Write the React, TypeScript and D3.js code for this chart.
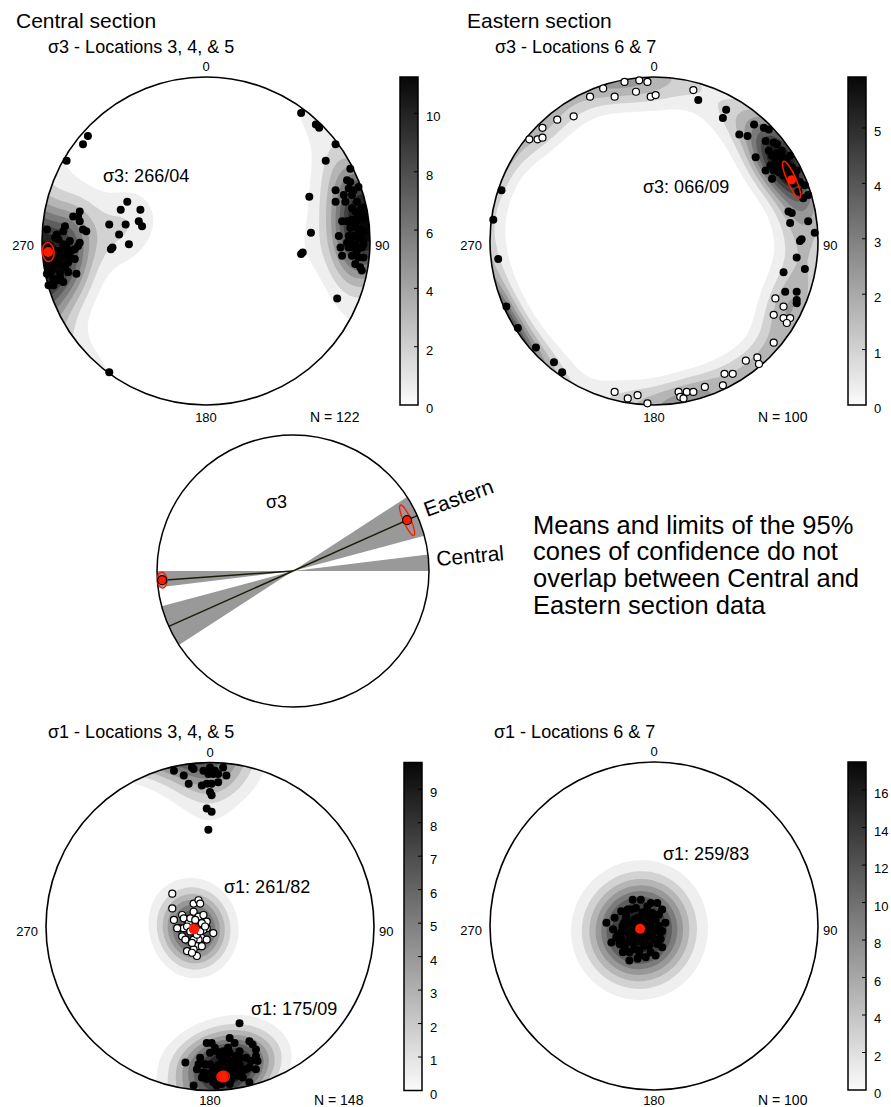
import React, { useMemo } from 'react';
import * as d3 from 'd3';

type Pt = [number, number];

// Points in equal-area (lower hemisphere) net coordinates: [east, north], % of primitive radius.
// Dense clusters hold overlapping points, so some entries sit under others.
const centralS3Points: Pt[] = [
  [58, 78], [67, 71], [69, 69], [79, 59], [73, 49], [88, 44], [86, 37], [88, 36], [87, 32], [90, 31],
  [93, 33], [79, 31], [84, 28], [89, 28], [79, 24], [85, 24], [92, 24], [95, 20], [91, 18], [95, 16],
  [63, 27], [83, 12], [86, 12], [89, 13], [92, 13], [96, 14], [91, 9], [94, 7], [96, 6], [81, 3],
  [87, 3], [90, 3], [93, 2], [95, 1], [88, 0], [91, -2], [96, -2], [64, 5], [82, -4], [87, -4],
  [90, -4], [95, -4], [83, -9], [89, -9], [93, -10], [96, -10], [91, -14], [94, -16], [95, -18], [59, -7],
  [58, -8], [80, -35], [90, 10], [88, 8], [92, -6], [89, 20], [86, -1], [93, 18],
  [-48, 24], [-52, 19], [-40, 19], [-41, 12], [-39, 9], [-49, 10], [-59, 10], [-53, 4], [-47, -2], [-57, -4],
  [-58, -5], [-72, 64], [-75, 59], [-85, 49], [-59, -80],
  [-77, 18], [-78, 15], [-81, 15], [-77, 12], [-73, 6], [-75, 7], [-97, 7], [-86, 9], [-87, 6], [-92, 2],
  [-83, 0], [-77, -1], [-78, -3], [-95, -3], [-85, -4], [-89, -6], [-83, -10], [-80, -11], [-92, -12], [-90, -14],
  [-86, -16], [-94, -18], [-89, -19], [-84, -19], [-79, -20], [-93, -23], [-87, -25], [-93, -27], [-89, -22],
  [-91, 4], [-90, 1], [-86, -7], [-93, -15], [-88, -15], [-90, -24], [-97, -20], [-96, -27],
  [-85, -8], [-88, -10], [-82, -6], [-90, -9], [-84, -13], [-87, -2], [-80, -5], [-91, -6],
];

const easternS3Filled: Pt[] = [
  [27, 86], [44, 80], [42, 75], [61, 71], [67, 69], [70, 68], [52, 65], [57, 64], [68, 61], [73, 60],
  [75, 59], [76, 53], [83, 52], [62, 51], [77, 47], [71, 46], [68, 43], [73, 43], [72, 38], [79, 40],
  [87, 43], [89, 36], [92, 34], [94, 28], [91, 26], [82, 18], [84, 17], [83, 11], [94, 12], [98, 5],
  [90, 1], [89, 0], [87, -10], [92, -17], [79, -19], [80, -31], [87, -31], [87, -36], [87, -38],
  [70, 55], [75, 50], [78, 45], [80, 42], [74, 48], [82, 38], [85, 35], [80, 50], [72, 52], [86, 40],
  [84, 45], [78, 55], [88, 30], [76, 42],
  [-93, 31], [-98, 13], [-95, -11], [-90, -40], [-83, -53], [-72, -65], [-61, -74], [-56, -80],
];

const easternS3Open: Pt[] = [
  [-18, 97], [-9, 98], [-4, 97], [-31, 93], [-24, 88], [-39, 88], [-11, 91], [-2, 88], [1, 89], [24, 92],
  [-59, 74], [-49, 76], [-68, 69], [-76, 62], [-71, 62], [-68, 63],
  [74, -35], [79, -40], [73, -45], [79, -47], [83, -47], [81, -50], [73, -62], [56, -73], [63, -71], [64, -75],
  [43, -81], [48, -81], [42, -88], [31, -89], [20, -92], [15, -92], [24, -92], [16, -95], [18, -96], [-10, -94],
  [-16, -96], [-24, -92], [-4, -99],
];

const centralS1Filled: Pt[] = [
  [-22, 95], [-16, 92], [-13, 87], [-11, 97], [-10, 96], [-4, 95], [0, 97], [-1, 93], [2, 93], [3, 95],
  [5, 93], [8, 97], [10, 92], [-5, 86], [-2, 87], [1, 87], [5, 88], [0, 82], [1, 80], [-2, 72],
  [1, 70], [-1, 59],
  [18, -59], [-2, -71], [1, -71], [3, -74], [0, -77], [4, -76], [12, -68], [15, -71], [11, -74], [12, -77],
  [6, -79], [8, -82], [13, -83], [15, -82], [18, -84], [24, -70], [26, -72], [28, -75], [28, -79], [25, -82],
  [24, -86], [29, -82], [28, -87], [-15, -83], [-6, -80], [-7, -84], [-8, -87], [-4, -89], [-1, -90], [2, -87],
  [3, -92], [-2, -93], [2, -95], [14, -88], [17, -91], [13, -93], [20, -92], [22, -87], [-10, -97], [7, -96],
  [12, -96], [4, -97], [24, -95], [18, -80],
  [5, -85], [10, -88], [8, -90], [0, -84], [15, -86], [20, -88], [5, -92], [10, -80], [18, -76], [-3, -84],
  [22, -80], [8, -76], [12, -90], [-5, -92], [16, -79],
];

const centralS1Open: Pt[] = [
  [-23, 20], [-23, 11], [-22, 4], [-17, 7], [-16, 5], [-19, -1], [-17, -6], [-16, -1], [-10, 14], [-7, 16],
  [-6, 14], [-10, 9], [-7, 6], [-4, 7], [-2, 3], [2, -4], [-2, -1], [-5, 2], [-4, -2], [-5, -7],
  [-7, -8], [-2, -8], [-8, -12], [-5, -12], [-10, -14], [-14, -15], [-8, -18], [-11, -16], [-10, -8], [-13, 2],
  [-14, 0], [-20, -1], [-9, -1],
  [-12, -3], [-8, -5], [-12, 5], [-6, -3], [-15, -8], [-9, 4], [-11, -10], [-3, 0],
];

const easternS1Points: Pt[] = [
  [-13, 16], [-8, 16], [-2, 14], [2, 14], [5, 10], [-29, 2], [-24, 5], [-20, 9], [-16, 10], [-11, 11],
  [-5, 9], [-1, 8], [3, 7], [7, 2], [5, -3], [4, -8], [-25, -2], [-23, -7], [-19, 0], [-15, 2],
  [-21, -11], [-18, -13], [-13, -10], [-7, -9], [-3, -12], [2, -11], [5, -13], [-19, -16], [-15, -16], [-9, -15],
  [-2, -16], [-5, -19], [1, -18], [-22, -5], [-14, -4], [-2, 0], [1, 4], [-3, 6], [-17, 6], [-15, -21],
  [-10, 0], [-6, -4], [-20, -4], [-12, 4], [-8, 2], [-4, -6], [-10, -20], [0, -8], [-26, -10], [3, 0],
  [-8, -5], [-12, -8], [-5, 0], [-15, -5], [-10, 5], [-3, -3], [-7, 8], [-17, -10], [0, -3], [-12, -14],
  [-6, -12], [-18, 2], [-2, 5], [-9, -18], [-20, -8], [4, -4], [-14, 10], [-4, 12],
];

// Mean axes [trend, plunge]
const centralS3Mean = [266, 4];
const easternS3Mean = [66, 9];
const centralS1Means = [[261, 82], [175, 9]];
const easternS1Mean = [259, 83];

// 95% cone semi-axes [radial, tangential], in primitive radii
const centralS3Cone = [0.036, 0.058];
const easternS3Cone = [0.027, 0.122];
const centralS1Cone = [0.032, 0.038];

const nCentralS3 = 122;
const nEasternS3 = 100;
const nCentralS1 = 148;
const nEasternS1 = 100;

// colour bar ranges (MUD) and ticks
const centralS3Max = 11.25;
const centralS3Ticks = [0, 2, 4, 6, 8, 10];
const easternS3Max = 5.92;
const easternS3Ticks = [0, 1, 2, 3, 4, 5];
const centralS1Max = 9.8;
const centralS1Ticks = [0, 1, 2, 3, 4, 5, 6, 7, 8, 9];
const easternS1Max = 17.5;
const easternS1Ticks = [0, 2, 4, 6, 8, 10, 12, 14, 16];

// comparison net: cone limits as trend ranges
const centralWedge = [263, 270];
const easternWedge = [57, 75];

const noteLines = [
  'Means and limits of the 95%',
  'cones of confidence do not',
  'overlap between Central and',
  'Eastern section data',
];

const FONT = "'Liberation Sans', Arial, Helvetica, sans-serif";
const GRID = 120;
const EXT = 1.04;
const LEVELS = 10;
const RED = '#ff1a00';

const rad = (d: number) => (d * Math.PI) / 180;

function tpToNet(trend: number, plunge: number): [number, number] {
  const r = Math.SQRT2 * Math.sin(rad(90 - plunge) / 2);
  return [r * Math.sin(rad(trend)), r * Math.cos(rad(trend))];
}

function toVec(e: number, n: number): number[] {
  const r = Math.hypot(e, n);
  if (r < 1e-9) return [0, 0, -1];
  const th = 2 * Math.asin(Math.min(r / Math.SQRT2, 1));
  const s = Math.sin(th) / r;
  return [e * s, n * s, -Math.cos(th)];
}

// exponential Kamb density for axes, sampled over the net
function densityContours(pts: Pt[], nTotal: number, maxVal: number, smooth: number) {
  const vecs = pts.map(p => toVec(p[0] / 100, p[1] / 100));
  const k = 2 * (1 + nTotal / 9) * smooth;
  const step = (2 * EXT) / GRID;
  const vals: number[] = new Array(GRID * GRID);
  for (let j = 0; j < GRID; j++) {
    const n = EXT - (j + 0.5) * step;
    for (let i = 0; i < GRID; i++) {
      const e = -EXT + (i + 0.5) * step;
      const g = toVec(e, n);
      let s = 0;
      for (const v of vecs) {
        const d = Math.abs(g[0] * v[0] + g[1] * v[1] + g[2] * v[2]);
        s += Math.exp(k * (d - 1));
      }
      vals[j * GRID + i] = s;
    }
  }
  const mx = d3.max(vals) || 1;
  const scaled = vals.map(v => (v / mx) * maxVal);
  const thr = d3.range(1, LEVELS).map(i => (maxVal * i) / LEVELS);
  return d3.contours().size([GRID, GRID]).thresholds(thr)(scaled);
}

const grey = d3.interpolateRgb('#fbfbfb', '#070707');

interface NetProps {
  id: string;
  cx: number;
  cy: number;
  R: number;
  filled: Pt[];
  open?: Pt[];
  nTotal: number;
  legendMax: number;
  ticks: number[];
  barX: number;
  means: number[][];
  cones?: (number[] | null)[];
  meanR: number;
  smooth?: number;
  bottomDy?: number;
  labels: { text: string; x: number; y: number }[];
}

const Stereonet: React.FC<NetProps> = ({
  id, cx, cy, R, filled, open = [], nTotal, legendMax, ticks, barX, means, cones = [], meanR,
  smooth = 1, bottomDy = 17, labels,
}) => {
  const x = d3.scaleLinear().domain([-1, 1]).range([cx - R, cx + R]);
  const y = d3.scaleLinear().domain([-1, 1]).range([cy + R, cy - R]);

  const contours = useMemo(
    () => densityContours([...filled, ...open], nTotal, legendMax, smooth),
    [filled, open, nTotal, legendMax, smooth]
  );
  const cell = (x(EXT) - x(-EXT)) / GRID;
  const path = d3.geoPath(d3.geoIdentity().scale(cell).translate([x(-EXT), y(EXT)]) as any);

  const bar = d3.scaleLinear().domain([0, legendMax]).range([cy + R, cy - R]);
  const barW = 18;

  return (
    <g>
      <defs>
        <clipPath id={`clip-${id}`}>
          <circle cx={cx} cy={cy} r={R} />
        </clipPath>
        <linearGradient id={`grad-${id}`} x1="0" y1="1" x2="0" y2="0">
          <stop offset="0%" stopColor={grey(0)} />
          <stop offset="50%" stopColor={grey(0.5)} />
          <stop offset="100%" stopColor={grey(1)} />
        </linearGradient>
      </defs>

      {/* density contours */}
      <g clipPath={`url(#clip-${id})`}>
        {contours.map((c, i) => (
          <path key={i} d={path(c as any) || ''} fill={grey(0.05 + (0.95 * i) / (LEVELS - 2))} stroke="none" />
        ))}
      </g>
      <circle cx={cx} cy={cy} r={R} fill="none" stroke="#000" strokeWidth={1.6} />

      {/* data */}
      {filled.map((p, i) => (
        <circle key={`f${i}`} cx={x(p[0] / 100)} cy={y(p[1] / 100)} r={4} fill="#000" />
      ))}
      {open.map((p, i) => (
        <circle key={`o${i}`} cx={x(p[0] / 100)} cy={y(p[1] / 100)} r={3.5} fill="#fff" stroke="#000" strokeWidth={1.2} />
      ))}

      {/* means and cones */}
      {means.map((m, i) => {
        const [e, n] = tpToNet(m[0], m[1]);
        const px = x(e);
        const py = y(n);
        const c = cones[i];
        return (
          <g key={`m${i}`}>
            {c && (
              <ellipse
                cx={px} cy={py} rx={c[0] * R} ry={c[1] * R}
                transform={`rotate(${m[0] - 90} ${px} ${py})`}
                fill="none" stroke={RED} strokeWidth={1.5}
              />
            )}
            <circle cx={px} cy={py} r={meanR} fill={RED} />
          </g>
        );
      })}
      {labels.map((l, i) => (
        <text key={`l${i}`} x={l.x} y={l.y} fontSize={18}>{l.text}</text>
      ))}

      {/* azimuth labels */}
      <g fontSize={13}>
        <text x={cx} y={cy - R - 6} textAnchor="middle">0</text>
        <text x={cx - R - 8} y={cy + 9} textAnchor="end">270</text>
        <text x={cx + R + 5} y={cy + 9}>90</text>
        <text x={cx} y={cy + R + bottomDy} textAnchor="middle">180</text>
        <text x={cx + 104} y={cy + R + bottomDy} fontSize={14}>{`N = ${nTotal}`}</text>
      </g>

      {/* colour bar */}
      <rect x={barX} y={cy - R} width={barW} height={2 * R} fill={`url(#grad-${id})`} stroke="#000" strokeWidth={1.5} />
      {ticks.map(t => (
        <g key={t}>
          {t > 0 && <line x1={barX + barW - 4} x2={barX + barW} y1={bar(t)} y2={bar(t)} stroke="#000" strokeWidth={1} />}
          <text x={barX + barW + 8} y={bar(t) + 8} fontSize={13}>{t}</text>
        </g>
      ))}
    </g>
  );
};

const CompareNet: React.FC<{ cx: number; cy: number; R: number }> = ({ cx, cy, R }) => {
  const x = d3.scaleLinear().domain([-1, 1]).range([cx - R, cx + R]);
  const y = d3.scaleLinear().domain([-1, 1]).range([cy + R, cy - R]);
  const arc = d3.arc<{ a0: number; a1: number }>()
    .innerRadius(0)
    .outerRadius(R)
    .startAngle(d => rad(d.a0))
    .endAngle(d => rad(d.a1));
  const wedges = [
    { a0: centralWedge[0], a1: centralWedge[1] },
    { a0: centralWedge[0] - 180, a1: centralWedge[1] - 180 },
    { a0: easternWedge[0], a1: easternWedge[1] },
    { a0: easternWedge[0] + 180, a1: easternWedge[1] + 180 },
  ];
  const cm = tpToNet(centralS3Mean[0], centralS3Mean[1]);
  const em = tpToNet(easternS3Mean[0], easternS3Mean[1]);
  const eEnd = tpToNet(easternS3Mean[0], 0);
  const eStart = tpToNet(easternS3Mean[0] + 180, 0);
  const line = d3.line();
  const markers = [
    { m: centralS3Mean, p: cm, c: centralS3Cone },
    { m: easternS3Mean, p: em, c: easternS3Cone },
  ];
  return (
    <g>
      <circle cx={cx} cy={cy} r={R} fill="#fff" />
      {wedges.map((w, i) => (
        <path key={i} d={arc(w) || ''} transform={`translate(${cx},${cy})`} fill="#999" />
      ))}
      <path d={line([[x(cm[0]), y(cm[1])], [x(0), y(0)]]) || ''} stroke="#1c1c08" strokeWidth={1.5} fill="none" />
      <path d={line([[x(eStart[0]), y(eStart[1])], [x(eEnd[0]), y(eEnd[1])]]) || ''} stroke="#1c1c08" strokeWidth={1.5} fill="none" />
      <circle cx={cx} cy={cy} r={R} fill="none" stroke="#000" strokeWidth={1.5} />
      {markers.map(({ m, p, c }, i) => {
        const px = x(p[0]);
        const py = y(p[1]);
        return (
          <g key={i}>
            <ellipse cx={px} cy={py} rx={c[0] * R} ry={c[1] * R}
              transform={`rotate(${m[0] - 90} ${px} ${py})`} fill="none" stroke={RED} strokeWidth={1.4} />
            <circle cx={px} cy={py} r={4.5} fill={RED} stroke="#000" strokeWidth={1.2} />
          </g>
        );
      })}
      <text x={266} y={508} fontSize={18}>σ3</text>
      <text x={427} y={517} fontSize={21} transform="rotate(-20 427 517)">Eastern</text>
      <text x={437} y={566} fontSize={21} transform="rotate(-5 437 566)">Central</text>
    </g>
  );
};

export default function App() {
  return (
    <svg
      width={891}
      height={1107}
      style={{ position: 'absolute', left: 0, top: 0, display: 'block', background: '#fff' }}
      fontFamily={FONT}
    >
      <rect width={891} height={1107} fill="#fff" />
      <text x={16} y={28} fontSize={21}>Central section</text>
      <text x={467} y={28} fontSize={21}>Eastern section</text>
      <text x={48} y={53} fontSize={18}>{'σ3 - Locations 3, 4, & 5'}</text>
      <text x={495} y={53} fontSize={18}>{'σ3 - Locations 6 & 7'}</text>
      <text x={48} y={738} fontSize={18}>{'σ1 - Locations 3, 4, & 5'}</text>
      <text x={494} y={738} fontSize={18}>{'σ1 - Locations 6 & 7'}</text>

      <Stereonet
        id="cs3" cx={206} cy={241} R={164}
        filled={centralS3Points} nTotal={nCentralS3}
        legendMax={centralS3Max} ticks={centralS3Ticks} barX={400}
        means={[centralS3Mean]} cones={[centralS3Cone]} meanR={5}
        labels={[{ text: 'σ3: 266/04', x: 103, y: 182 }]}
      />
      <Stereonet
        id="es3" cx={654} cy={241} R={164} smooth={1.5}
        filled={easternS3Filled} open={easternS3Open} nTotal={nEasternS3}
        legendMax={easternS3Max} ticks={easternS3Ticks} barX={848}
        means={[easternS3Mean]} cones={[easternS3Cone]} meanR={4.6}
        labels={[{ text: 'σ3: 066/09', x: 643, y: 193 }]}
      />
      <Stereonet
        id="cs1" cx={210} cy={926.5} R={164} bottomDy={14.5}
        filled={centralS1Filled} open={centralS1Open} nTotal={nCentralS1}
        legendMax={centralS1Max} ticks={centralS1Ticks} barX={404}
        means={centralS1Means} cones={[null, centralS1Cone]} meanR={5.3}
        labels={[
          { text: 'σ1: 261/82', x: 224, y: 893 },
          { text: 'σ1: 175/09', x: 251, y: 1015 },
        ]}
      />
      <Stereonet
        id="es1" cx={654} cy={926} R={164} bottomDy={15} smooth={0.7}
        filled={easternS1Points} nTotal={nEasternS1}
        legendMax={easternS1Max} ticks={easternS1Ticks} barX={848}
        means={[easternS1Mean]} meanR={5}
        labels={[{ text: 'σ1: 259/83', x: 663, y: 860 }]}
      />

      <CompareNet cx={293} cy={571} R={136} />

      <g fontSize={25.5}>
        {noteLines.map((t, i) => (
          <text key={i} x={533} y={533.5 + i * 26.7}>{t}</text>
        ))}
      </g>
    </svg>
  );
}
